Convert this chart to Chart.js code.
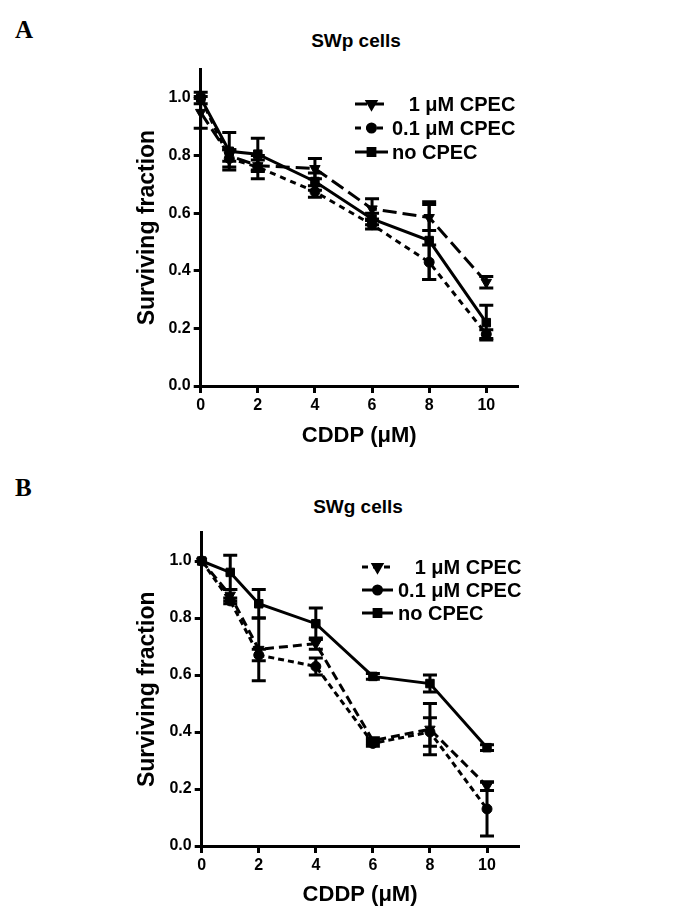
<!DOCTYPE html>
<html><head><meta charset="utf-8">
<script src="https://cdn.jsdelivr.net/npm/chart.js@4/dist/chart.umd.min.js"></script>
<style>
body{margin:0;background:#fff;width:688px;height:910px;position:relative;overflow:hidden;font-family:"Liberation Sans",Arial,sans-serif}
.box{position:absolute;left:0;width:688px}
.lbl{position:absolute;font-family:"Liberation Serif","Times New Roman",serif;font-weight:bold;font-size:25px;line-height:1}
.ttl{position:absolute;font-weight:bold;font-size:19px;line-height:1;transform:translate(-50%,-50%);white-space:nowrap}
</style></head><body>
<div class="lbl" style="left:15px;top:17px">A</div>
<div class="ttl" style="left:356px;top:40px">SWp cells</div>
<div class="box" style="top:0;height:460px"><canvas id="cA" width="688" height="460"></canvas></div>
<div class="lbl" style="left:15px;top:475px">B</div>
<div class="ttl" style="left:358px;top:506px">SWg cells</div>
<div class="box" style="top:460px;height:450px"><canvas id="cB" width="688" height="450"></canvas></div>
<script>
// ---- data ----
const doses = [0, 1, 2, 4, 6, 8, 10];
const xTickValues = [0, 2, 4, 6, 8, 10];
const yTickValues = [0, 0.2, 0.4, 0.6, 0.8, 1.0];
const seriesNames = ['1 μM CPEC', '0.1 μM CPEC', 'no CPEC'];

const swp_1uM      = [0.95, 0.80, 0.765, 0.755, 0.615, 0.585, 0.36];
const swp_1uM_err  = [0.055, 0.02, 0.02, 0.035, 0.035, 0.045, 0.02];
const swp_01uM     = [1.00, 0.79, 0.76, 0.675, 0.56, 0.43, 0.18];
const swp_01uM_err = [0, 0.03, 0.04, 0.02, 0.015, 0.06, 0.015];
const swp_none     = [1.00, 0.815, 0.805, 0.71, 0.58, 0.505, 0.22];
const swp_none_err = [0.02, 0.065, 0.055, 0.03, 0.02, 0.135, 0.06];

const swg_1uM      = [1.00, 0.88, 0.69, 0.71, 0.37, 0.41, 0.21];
const swg_1uM_err  = [0, 0.02, 0.11, 0.02, 0.01, 0.09, 0.015];
const swg_01uM     = [1.00, 0.86, 0.67, 0.63, 0.36, 0.40, 0.13];
const swg_01uM_err = [0, 0.01, 0.02, 0.03, 0.01, 0.05, 0.095];
const swg_none     = [1.00, 0.96, 0.85, 0.78, 0.595, 0.57, 0.345];
const swg_none_err = [0, 0.06, 0.05, 0.055, 0.01, 0.03, 0.01];

Chart.defaults.font.family = '"Liberation Sans", Arial, sans-serif';
Chart.defaults.color = '#000';

const errorBars = {
  id: 'errorBars',
  beforeDatasetsDraw(chart, args, o) {
    const {ctx, scales: {x, y}} = chart;
    ctx.save();
    ctx.strokeStyle = '#000'; ctx.lineWidth = 3; ctx.setLineDash([]);
    chart.data.datasets.forEach(ds => {
      ds.errors.forEach((e, i) => {
        if (!e) return;
        const p = ds.data[i];
        const px = x.getPixelForValue(p.x);
        const y1 = y.getPixelForValue(p.y + e), y2 = y.getPixelForValue(p.y - e);
        const c = 7;
        ctx.beginPath();
        ctx.moveTo(px, y1); ctx.lineTo(px, y2);
        ctx.moveTo(px - c, y1); ctx.lineTo(px + c, y1);
        ctx.moveTo(px - c, y2); ctx.lineTo(px + c, y2);
        ctx.stroke();
      });
    });
    ctx.restore();
  }
};

const sideLegend = {
  id: 'sideLegend',
  afterDraw(chart, args, o) {
    const ctx = chart.ctx;
    ctx.save();
    ctx.font = 'bold 20px "Liberation Sans", Arial, sans-serif';
    ctx.textBaseline = 'middle';
    const indent = ctx.measureText('0.').width;
    chart.data.datasets.forEach((ds, i) => {
      const yy = o.y0 + i * o.dy;
      ctx.strokeStyle = '#000'; ctx.fillStyle = '#000'; ctx.lineWidth = 3;
      ctx.setLineDash(o.dash[i]);
      ctx.beginPath(); ctx.moveTo(o.x1, yy); ctx.lineTo(o.x2, yy); ctx.stroke();
      ctx.setLineDash([]);
      Chart.helpers.drawPoint(ctx, {pointStyle: ds.pointStyle, rotation: ds.pointRotation || 0, radius: ds.pointRadius * 0.8, borderWidth: 1}, (o.x1 + o.x2) / 2, yy);
      const t = ds.label;
      ctx.fillText(t, o.tx + (t.startsWith('1 ') ? indent : 0), yy + 1);
    });
    ctx.restore();
  }
};

function mkData(vals) { return doses.map((d, i) => ({x: d, y: vals[i]})); }

function mkDatasets(sets, dashes) {
  const styles = [
    {pointStyle: 'triangle', pointRotation: 180, pointRadius: 6},
    {pointStyle: 'circle', pointRotation: 0, pointRadius: 5},
    {pointStyle: 'rect', pointRotation: 0, pointRadius: 6}
  ];
  return sets.map((s, i) => Object.assign({
    label: seriesNames[i],
    data: mkData(s[0]),
    errors: s[1],
    borderColor: '#000', backgroundColor: '#000',
    pointBackgroundColor: '#000', pointBorderColor: '#000', pointBorderWidth: 1,
    borderWidth: 3, borderDash: dashes[i], tension: 0, clip: false
  }, styles[i]));
}

function mkScales(yW, xH, xTitlePad) {
  return {
    x: {
      type: 'linear', min: 0, max: 11.1,
      afterBuildTicks: s => { s.ticks = xTickValues.map(v => ({value: v})); },
      afterFit: s => { s.height = xH; },
      border: {display: true, color: '#000', width: 3},
      grid: {display: true, drawOnChartArea: false, drawTicks: true, tickLength: 7, color: '#000', lineWidth: 3},
      ticks: {color: '#000', font: {size: 16, weight: 'bold'}, padding: 3, maxRotation: 0, autoSkip: false},
      title: {display: true, text: 'CDDP (μM)', color: '#000', font: {size: 22, weight: 'bold', lineHeight: 1}, padding: {top: 0, bottom: xTitlePad}}
    },
    y: {
      type: 'linear', min: 0, max: 1.1,
      afterBuildTicks: s => { s.ticks = yTickValues.map(v => ({value: v})); },
      afterFit: s => { s.width = yW; },
      border: {display: true, color: '#000', width: 3},
      grid: {display: true, drawOnChartArea: false, drawTicks: true, tickLength: 7, color: '#000', lineWidth: 3},
      ticks: {color: '#000', font: {size: 16, weight: 'bold'}, padding: 3, callback: v => Number(v).toFixed(1)},
      title: {display: true, text: 'Surviving fraction', color: '#000', font: {size: 23, weight: 'bold', lineHeight: 1}, padding: 0}
    }
  };
}

new Chart(document.getElementById('cA'), {
  type: 'line',
  data: {datasets: mkDatasets([[swp_1uM, swp_1uM_err], [swp_01uM, swp_01uM_err], [swp_none, swp_none_err]], [[14, 6], [6, 5], []])},
  options: {
    responsive: false, animation: false,
    layout: {padding: {left: 136.5, top: 69.2, right: 170.3, bottom: 0}},
    scales: mkScales(64.2, 74, 13),
    plugins: {
      legend: {display: false}, tooltip: {enabled: false},
      sideLegend: {x1: 355, x2: 388, tx: 392, y0: 104, dy: 24, dash: [[12, 5], [6, 5], []]}
    }
  },
  plugins: [errorBars, sideLegend]
});

new Chart(document.getElementById('cB'), {
  type: 'line',
  data: {datasets: mkDatasets([[swg_1uM, swg_1uM_err], [swg_01uM, swg_01uM_err], [swg_none, swg_none_err]], [[9, 5], [6, 4], []])},
  options: {
    responsive: false, animation: false,
    layout: {padding: {left: 136.5, top: 72.5, right: 169.6, bottom: 0}},
    scales: mkScales(65.2, 64, 4),
    plugins: {
      legend: {display: false}, tooltip: {enabled: false},
      sideLegend: {x1: 362, x2: 393, tx: 398, y0: 107, dy: 23, dash: [[6, 5], [], []]}
    }
  },
  plugins: [errorBars, sideLegend]
});
</script>
</body></html>
